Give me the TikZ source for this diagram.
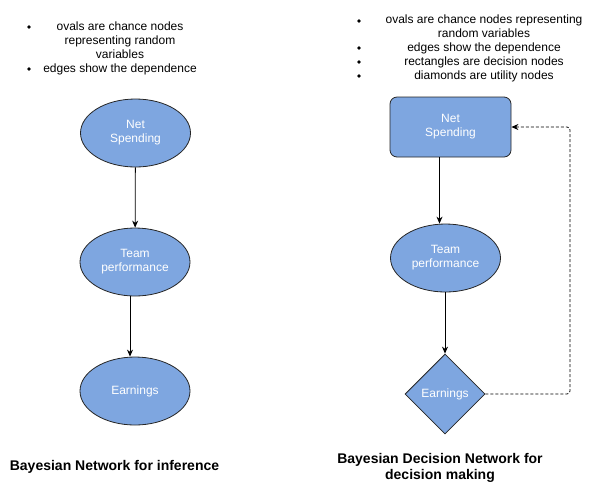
\documentclass[tikz,border=0pt]{standalone}
\usepackage{fontspec}
\setmainfont{Liberation Sans}
\usetikzlibrary{shapes.geometric,arrows.meta}
\definecolor{nodeblue}{RGB}{126,166,224}
\begin{document}
\begin{tikzpicture}[x=1pt, y=-1pt, font=\fontsize{12}{14}\selectfont,
    chance/.style={draw=black!85, fill=nodeblue, ellipse, line width=0.8pt, minimum width=110pt, minimum height=68pt, inner sep=0pt, text=white, align=center},
    decision/.style={draw=black!85, fill=nodeblue, rectangle, rounded corners=7pt, line width=0.8pt, minimum width=121pt, minimum height=60pt, inner sep=0pt, text=white, align=center},
    utility/.style={draw=black!85, fill=nodeblue, diamond, aspect=1, line width=0.8pt, minimum width=80pt, minimum height=80pt, inner sep=0pt, text=white, align=center},
    arr/.style={-{Stealth[length=7pt, width=6pt]}, line width=0.8pt},
    dot/.style={circle, fill=black, inner sep=0pt, minimum size=3.6pt},
    title/.style={font=\bfseries\fontsize{14}{16}\selectfont, align=center}]
    \useasboundingbox (0,0) rectangle (601,483);
    % left: network for inference
    \node[align=center] (ltxt) at (120,48) {ovals are chance nodes\\representing random\\variables\\edges show the dependence};
    \node[dot] (lb1) at (29,27) {};
    \node[dot] (lb2) at (29,69) {};
    \node[chance] (lnet) at (135.5,133) {Net\\Spending};
    \node[chance] (ltp) at (135,262) {Team\\performance};
    \node[chance] (learn) at (135,391) {Earnings};
    \draw[arr] (lnet) -- (ltp);
    \draw[arr] ([xshift=-5pt]ltp.south) -- ([xshift=-5pt]learn.north);
    \node[title] (ltitle) at (114.5,467) {Bayesian Network for inference};
    % right: decision network
    \node[align=center] (rtxt) at (484,48) {ovals are chance nodes representing\\random variables\\edges show the dependence\\rectangles are decision nodes\\diamonds are utility nodes};
    \node[dot] (rb1) at (359,21) {};
    \node[dot] (rb2) at (359,48) {};
    \node[dot] (rb3) at (359,62) {};
    \node[dot] (rb4) at (359,76) {};
    \node[decision] (rnet) at (450.5,127) {Net\\Spending};
    \node[chance] (rtp) at (445.5,258) {Team\\performance};
    \node[utility] (rearn) at (445,394) {Earnings};
    \coordinate (loop) at (570,127);
    \draw[arr] ([xshift=-11pt]rnet.south) -- ([xshift=-6pt]rtp.north);
    \draw[arr] ([xshift=-0.5pt]rtp.south) -- (rearn.north);
    \draw[arr, dash pattern=on 3pt off 2pt, rounded corners=3pt] (rearn.east) -| (loop) -- (rnet.east);
    \node[title] (rtitle) at (440,468) {Bayesian Decision Network for\\decision making};
\end{tikzpicture}
\end{document}
